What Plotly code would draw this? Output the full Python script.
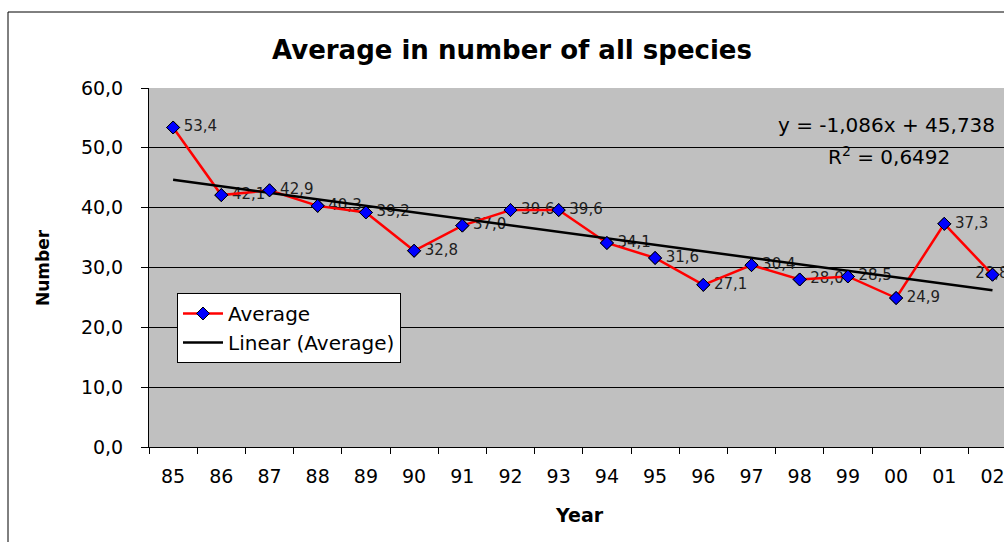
import plotly.graph_objects as go

# Survey years and average number of species per year
years = ["85", "86", "87", "88", "89", "90", "91", "92", "93",
         "94", "95", "96", "97", "98", "99", "00", "01", "02"]
average = [53.4, 42.1, 42.9, 40.3, 39.2, 32.8, 37.0, 39.6, 39.6,
           34.1, 31.6, 27.1, 30.4, 28.0, 28.5, 24.9, 37.3, 28.8]

# Linear trend reported for the series (x = 1 .. n)
trend_slope = -1.086
trend_intercept = 45.738
trend_r2 = 0.6492

y_ticks = [0, 10, 20, 30, 40, 50, 60]

W, H = 1004, 542
ML, MR, MT, MB = 149, 0, 88, 95
PW, PH = W - ML - MR, H - MT - MB
CAT_W = 48.2  # pixel width of one category slot


def px_x(px):
    return (px - ML) / PW


def px_y(py):
    return (H - MB - py) / PH


idx = list(range(len(years)))
trend = [trend_slope * (i + 1) + trend_intercept for i in idx]

# data labels sit a little to the right of each point; the last one is
# pulled back left so it stays inside the chart edge
label_x = [i + 0.22 for i in idx]
label_x[-1] = idx[-1] - 0.36

TXT = "DejaVu Sans"
MARKER = dict(symbol="diamond", size=10, color="#0000FF",
              line=dict(color="#000000", width=1))

fig = go.Figure()

# data labels sit underneath the trend line
fig.add_trace(go.Scatter(
    x=label_x, y=average, mode="text",
    texttemplate="%{y:.1f}", textposition="middle right",
    textfont=dict(family=TXT, size=15, color="#202020"),
    showlegend=False, hoverinfo="skip", cliponaxis=False,
))

fig.add_trace(go.Scatter(
    x=idx, y=average, mode="lines+markers", name="Average",
    line=dict(color="#FF0000", width=2.5), marker=MARKER,
))

fig.add_trace(go.Scatter(
    x=idx, y=trend, mode="lines", name="Linear (Average)",
    line=dict(color="#000000", width=2.5),
))

# markers drawn again on top of the trend line
fig.add_trace(go.Scatter(
    x=idx, y=average, mode="markers", showlegend=False,
    marker=MARKER, hoverinfo="skip",
))

annotations = [
    dict(text="<b>Average in number of all species</b>",
         x=px_x(512), y=px_y(50), xref="paper", yref="paper",
         xanchor="center", yanchor="middle", showarrow=False,
         font=dict(family=TXT, size=26, color="#000000")),
    dict(text="<b>Year</b>",
         x=px_x(579), y=px_y(515), xref="paper", yref="paper",
         xanchor="center", yanchor="middle", showarrow=False,
         font=dict(family=TXT, size=19, color="#000000")),
    dict(text="<b>Number</b>", textangle=-90,
         x=px_x(43), y=px_y(268), xref="paper", yref="paper",
         xanchor="center", yanchor="middle", showarrow=False,
         font=dict(family=TXT, size=17, color="#000000")),
    dict(text=f"y = {trend_slope:.3f}x + {trend_intercept:.3f}".replace(".", ","),
         x=px_x(886), y=px_y(125), xref="paper", yref="paper",
         xanchor="center", yanchor="middle", showarrow=False,
         font=dict(family=TXT, size=20, color="#000000")),
    dict(text="R<sup>2</sup> = " + f"{trend_r2:.4f}".replace(".", ","),
         x=px_x(889), y=px_y(156), xref="paper", yref="paper",
         xanchor="center", yanchor="middle", showarrow=False,
         font=dict(family=TXT, size=20, color="#000000")),
]

# outer chart frame
shapes = [
    dict(type="rect", xref="paper", yref="paper",
         x0=px_x(8), x1=px_x(1100), y0=px_y(700), y1=px_y(12),
         line=dict(color="#000000", width=1), fillcolor="rgba(0,0,0,0)",
         layer="below"),
]

fig.update_layout(
    width=W, height=H,
    margin=dict(l=ML, r=MR, t=MT, b=MB, pad=0),
    paper_bgcolor="#FFFFFF",
    plot_bgcolor="#C0C0C0",
    separators=",.",
    font=dict(family=TXT, color="#000000"),
    annotations=annotations,
    shapes=shapes,
    legend=dict(
        x=px_x(177), y=px_y(293), xanchor="left", yanchor="top",
        bgcolor="#FFFFFF", bordercolor="#000000", borderwidth=1,
        font=dict(family=TXT, size=20, color="#000000"),
        tracegroupgap=0, itemwidth=40,
    ),
    xaxis=dict(
        range=[-0.5, -0.5 + PW / CAT_W],
        tickvals=idx, ticktext=years, ticks="",
        minor=dict(ticks="outside", ticklen=6, tickcolor="#000000",
                   tickwidth=1, tick0=-0.5, dtick=1, showgrid=False),
        showline=True, linecolor="#000000", linewidth=1,
        showgrid=False, zeroline=False,
        tickfont=dict(family=TXT, size=19, color="#000000"),
        ticklabelstandoff=12, ticklabeloverflow="allow",
    ),
    yaxis=dict(
        range=[0, 60], tickvals=y_ticks, tickformat=".1f",
        ticks="outside", ticklen=7, tickcolor="#000000", tickwidth=1,
        showline=True, linecolor="#000000", linewidth=1,
        showgrid=True, gridcolor="#000000", gridwidth=1,
        zeroline=False,
        tickfont=dict(family=TXT, size=19, color="#000000"),
        ticklabelstandoff=14,
    ),
)

fig.write_html("out.html")
